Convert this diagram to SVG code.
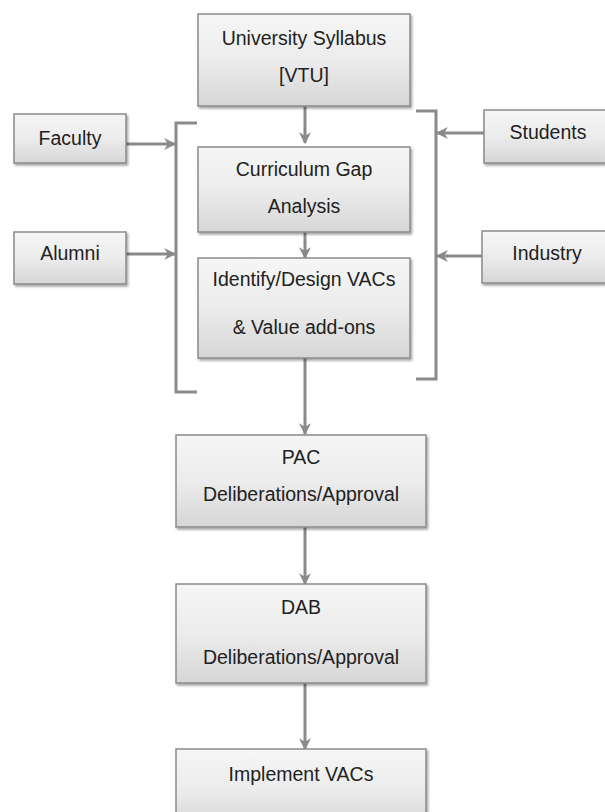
<svg xmlns="http://www.w3.org/2000/svg" width="605" height="812" viewBox="0 0 605 812">
<defs>
<linearGradient id="g" x1="0" y1="0" x2="0" y2="1">
<stop offset="0" stop-color="#f6f6f6"/>
<stop offset="0.5" stop-color="#ececec"/>
<stop offset="1" stop-color="#d6d6d6"/>
</linearGradient>
<marker id="ah" viewBox="0 0 10 10" refX="9" refY="5" markerWidth="4" markerHeight="4" orient="auto" markerUnits="strokeWidth">
<path d="M0,0 L10,5 L0,10 L3,5 z" fill="#8a8a8a"/>
</marker>
<filter id="sh" x="-10%" y="-10%" width="130%" height="130%">
<feDropShadow dx="1.5" dy="2" stdDeviation="1" flood-color="#000" flood-opacity="0.35"/>
</filter>
</defs>
<style>
.box{fill:url(#g);stroke:#8a8a8a;stroke-width:1.5;filter:url(#sh)}
.t{font-family:"Liberation Sans",Arial,sans-serif;font-size:19.5px;fill:#222;text-anchor:middle}
.c{fill:none;stroke:#8a8a8a;stroke-width:3}
.a{fill:none;stroke:#8a8a8a;stroke-width:3;marker-end:url(#ah)}
</style>
<rect width="605" height="812" fill="#fff"/>
<g id="connectors">
<path class="c" d="M197,123 L176,123 L176,392 L197,392"/>
<path class="c" d="M416,111 L436,111 L436,379 L416,379"/>
<line class="a" x1="305" y1="106" x2="305" y2="143"/>
<line class="a" x1="305" y1="232" x2="305" y2="258"/>
<line class="a" x1="305" y1="358" x2="305" y2="434"/>
<line class="a" x1="305" y1="527" x2="305" y2="584"/>
<line class="a" x1="305" y1="683" x2="305" y2="749"/>
<line class="a" x1="126" y1="144" x2="175" y2="144"/>
<line class="a" x1="126" y1="254" x2="175" y2="254"/>
<line class="a" x1="484" y1="133" x2="437" y2="133"/>
<line class="a" x1="482" y1="256" x2="437" y2="256"/>
</g>
<g id="university">
<rect class="box" x="198" y="14" width="212" height="92"/>
<text class="t" x="304" y="45">University Syllabus</text>
<text class="t" x="304" y="82">[VTU]</text>
</g>
<g id="faculty">
<rect class="box" x="14" y="114" width="112" height="49"/>
<text class="t" x="70" y="145">Faculty</text>
</g>
<g id="alumni">
<rect class="box" x="14" y="232" width="112" height="52"/>
<text class="t" x="70" y="260">Alumni</text>
</g>
<g id="students">
<rect class="box" x="484" y="110" width="140" height="53"/>
<text class="t" x="548" y="139">Students</text>
</g>
<g id="industry">
<rect class="box" x="482" y="231" width="142" height="52"/>
<text class="t" x="547" y="260">Industry</text>
</g>
<g id="gap">
<rect class="box" x="198" y="147" width="212" height="85"/>
<text class="t" x="304" y="176">Curriculum Gap</text>
<text class="t" x="304" y="213">Analysis</text>
</g>
<g id="identify">
<rect class="box" x="198" y="258" width="212" height="100"/>
<text class="t" x="304" y="286">Identify/Design VACs</text>
<text class="t" x="304" y="334">&amp; Value add-ons</text>
</g>
<g id="pac">
<rect class="box" x="176" y="435" width="250" height="92"/>
<text class="t" x="301" y="464">PAC</text>
<text class="t" x="301" y="501">Deliberations/Approval</text>
</g>
<g id="dab">
<rect class="box" x="176" y="584" width="250" height="99"/>
<text class="t" x="301" y="614">DAB</text>
<text class="t" x="301" y="664">Deliberations/Approval</text>
</g>
<g id="implement">
<rect class="box" x="176" y="749" width="250" height="80"/>
<text class="t" x="301" y="781">Implement VACs</text>
</g>
</svg>
